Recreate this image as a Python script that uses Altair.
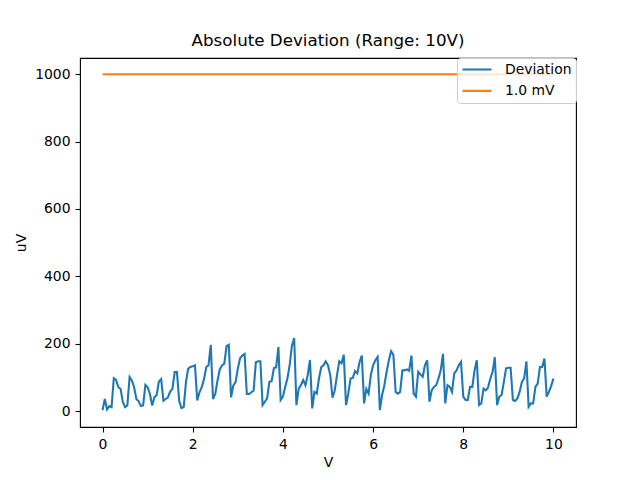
import altair as alt
import pandas as pd

# Deviation series sampled every 0.05 V from 0 to 10 V (values in uV)
volts = [round(i * 0.05, 2) for i in range(201)]
deviation_uv = [
    3, 36, 5, 15, 12, 98, 93, 71, 66, 27, 12, 17, 101, 91, 71, 36, 29, 15, 17, 78,
    71, 51, 17, 41, 48, 88, 95, 31, 36, 41, 58, 66, 116, 116, 30, 9, 12, 86, 126, 131,
    133, 136, 32, 56, 71, 95, 131, 136, 197, 36, 51, 91, 124, 136, 141, 193, 197, 41, 76, 86,
    126, 157, 165, 170, 51, 51, 56, 61, 145, 148, 148, 18, 28, 38, 87, 89, 128, 130, 190, 33,
    43, 72, 97, 137, 195, 217, 18, 67, 77, 92, 77, 107, 152, 8, 57, 52, 97, 131, 136, 148,
    136, 107, 40, 62, 107, 148, 142, 167, 18, 52, 97, 99, 119, 112, 146, 165, 23, 66, 52, 107,
    136, 151, 161, 3, 48, 77, 117, 151, 178, 167, 57, 52, 57, 121, 121, 124, 120, 165, 52, 43,
    117, 109, 102, 136, 151, 28, 62, 72, 77, 97, 121, 170, 23, 77, 72, 57, 112, 121, 136, 146,
    43, 33, 33, 72, 72, 121, 151, 18, 23, 67, 62, 70, 97, 117, 160, 18, 43, 48, 87, 127,
    129, 129, 33, 30, 38, 57, 87, 97, 148, 13, 23, 23, 72, 82, 131, 131, 156, 43, 57, 75,
    97,
]
limit_volts = [0, 10]
limit_uv = [1000, 1000]

series_names = ["Deviation", "1.0 mV"]
series_colors = ["#1f77b4", "#ff7f0e"]
x_ticks = [0, 2, 4, 6, 8, 10]
y_ticks = [0, 200, 400, 600, 800, 1000]

assert len(volts) == len(deviation_uv)

df = pd.concat([
    pd.DataFrame({"V": volts, "uV": deviation_uv, "series": series_names[0]}),
    pd.DataFrame({"V": limit_volts, "uV": limit_uv, "series": series_names[1]}),
], ignore_index=True)

FONT = "DejaVu Sans"

chart = alt.Chart(df).mark_line(strokeWidth=2.08).encode(
    x=alt.X("V:Q", title="V",
            scale=alt.Scale(domain=[-0.5, 10.5], nice=False, zero=False),
            axis=alt.Axis(values=x_ticks, format="d", titlePadding=5)),
    y=alt.Y("uV:Q", title="uV",
            scale=alt.Scale(domain=[-47, 1048], nice=False, zero=False),
            axis=alt.Axis(values=y_ticks, format="d", titlePadding=6)),
    color=alt.Color("series:N", title=None,
                    scale=alt.Scale(domain=series_names, range=series_colors),
                    sort=series_names,
                    legend=alt.Legend(orient="top-right", offset=0, symbolType="stroke",
                                      symbolSize=841, symbolStrokeWidth=2.08,
                                      labelFontSize=13.9, labelFont=FONT, labelColor="black",
                                      labelOffset=12, padding=4, rowPadding=6.4,
                                      clipHeight=15,
                                      fillColor="rgba(255,255,255,0.8)",
                                      strokeColor="#cccccc", cornerRadius=3)),
).properties(
    width=496,
    height=369,
    title=alt.TitleParams("Absolute Deviation (Range: 10V)", fontSize=16.7,
                          font=FONT, fontWeight="normal", color="black",
                          anchor="middle", offset=8),
    autosize=alt.AutoSizeParams(type="none"),
    padding={"left": 72, "top": 50, "right": 50, "bottom": 45},
).configure_view(
    stroke="black", strokeWidth=1.1
).configure_axis(
    grid=False, domain=False,
    ticks=True, tickColor="black", tickSize=5, tickWidth=1.1,
    labelPadding=5, labelFontSize=13.9, labelFont=FONT, labelColor="black",
    titleFontSize=13.9, titleFont=FONT, titleFontWeight="normal", titleColor="black",
)

chart.save("out.html", embed_options={"renderer": "svg", "actions": False})
